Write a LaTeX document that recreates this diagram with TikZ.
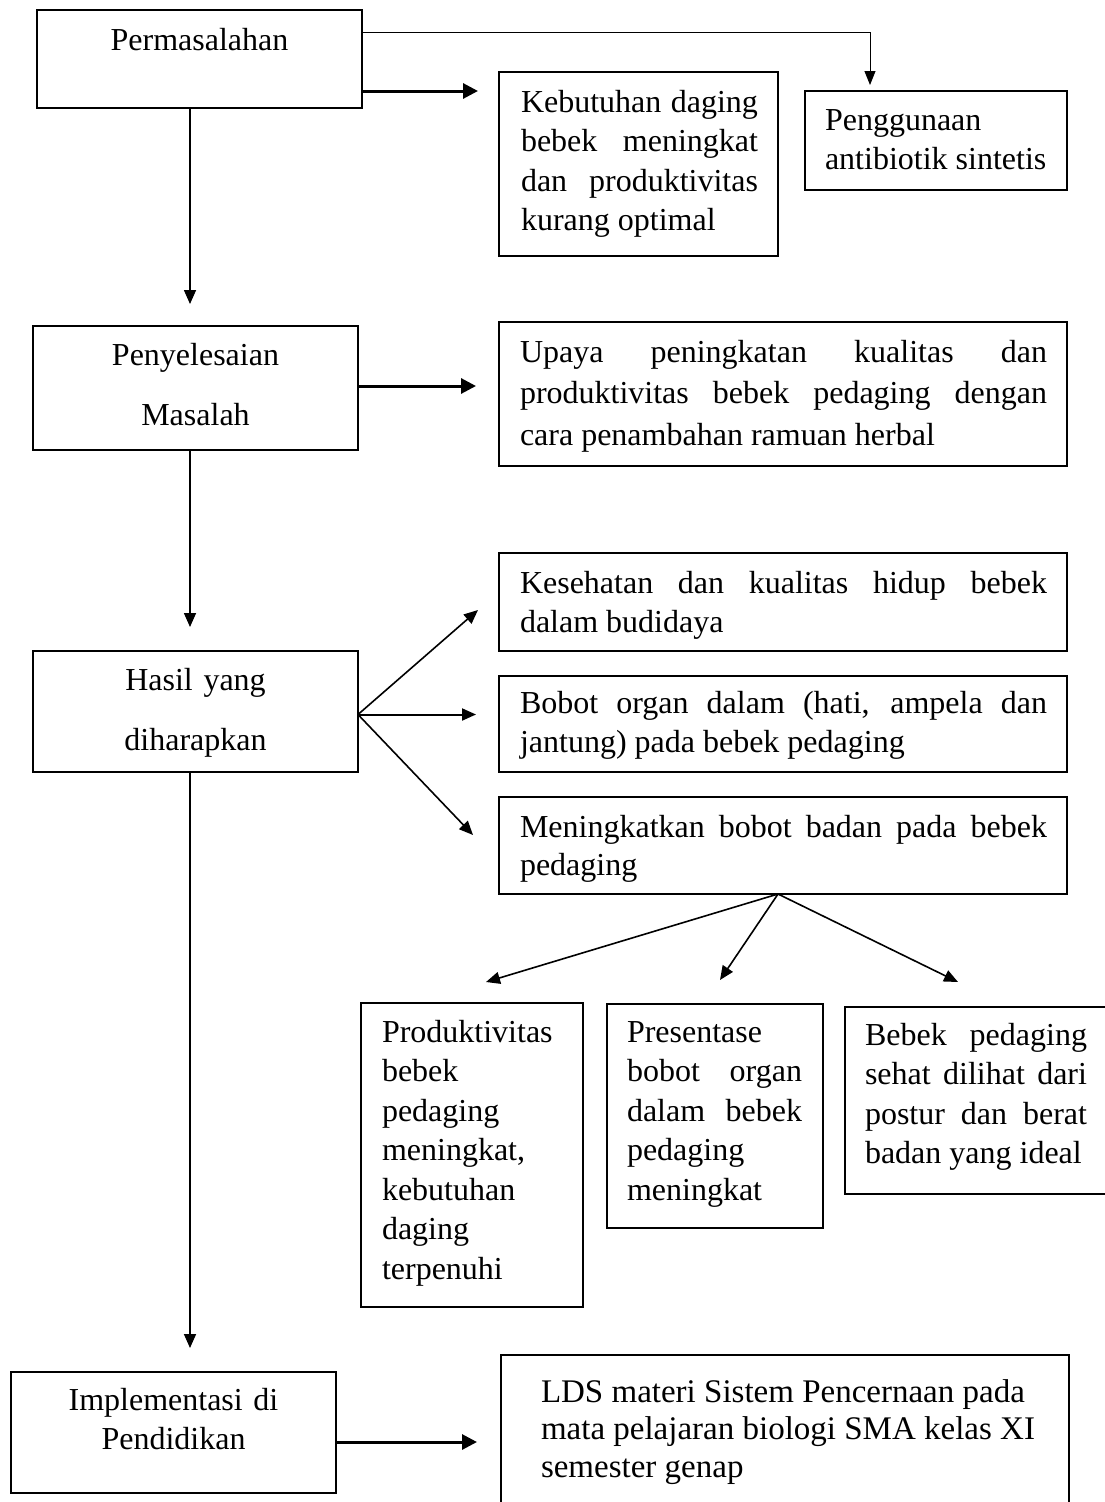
\documentclass[tikz,border=0pt]{standalone}
\usepackage{fontspec}
\setmainfont{Liberation Serif}
\usetikzlibrary{arrows.meta,calc}
\tikzset{
  x=1pt, y=-1pt,
  box/.style={draw, line width=1.5pt, inner sep=0pt, outer sep=0pt, anchor=north west},
  txt/.style={inner sep=0pt, outer sep=0pt, anchor=north west, align=justify,
    font=\fontsize{32}{39.5}\selectfont},
  ctxt/.style={inner sep=0pt, outer sep=0pt, anchor=north, align=center, text width=300pt,
    font=\fontsize{32}{39.5}\selectfont},
  wtxt/.style={ctxt, font=\fontsize{32}{60}\selectfont},
  arr/.style={line width=1.6pt, -{Triangle[length=14pt,width=12pt]}},
  tarr/.style={line width=3pt, -{Triangle[length=15pt,width=15pt]}},
  thinarr/.style={line width=1pt, -{Triangle[length=14pt,width=11pt]}},
}
\begin{document}
\setlength{\parindent}{0pt}%
\hyphenpenalty=10000 \exhyphenpenalty=10000 \hbadness=10000 %
\begin{tikzpicture}
\fill[white] (0,0) rectangle (1104,1502);
\useasboundingbox (0,0) rectangle (1104,1502);

% boxes
\node[box, minimum width=325pt, minimum height=98pt]  (perm)  at (37,10) {};
\node[box, minimum width=279pt, minimum height=184pt] (keb)   at (499,72) {};
\node[box, minimum width=262pt, minimum height=99pt]  (peng)  at (805,91) {};
\node[box, minimum width=325pt, minimum height=124pt] (peny)  at (33,326) {};
\node[box, minimum width=568pt, minimum height=144pt] (upaya) at (499,322) {};
\node[box, minimum width=325pt, minimum height=121pt] (hasil) at (33,651) {};
\node[box, minimum width=568pt, minimum height=98pt]  (kes)   at (499,553) {};
\node[box, minimum width=568pt, minimum height=96pt]  (bob)   at (499,676) {};
\node[box, minimum width=568pt, minimum height=97pt]  (men)   at (499,797) {};
\node[box, minimum width=222pt, minimum height=304pt] (prod)  at (361,1003) {};
\node[box, minimum width=216pt, minimum height=224pt] (pres)  at (607,1004) {};
\node[box, minimum width=262pt, minimum height=187pt] (beb)   at (845,1007) {};
\node[box, minimum width=325pt, minimum height=121pt] (impl)  at (11,1372) {};
\node[box, minimum width=568pt, minimum height=170pt] (lds)   at (501,1355) {};

% texts
\node[inner sep=0pt, anchor=base, font=\fontsize{32}{39.5}\selectfont] (permt) at (199.5,50) {Permasalahan};
\node[txt, text width=237pt] (kebt) at (521,84.35)
  {\strut Kebutuhan daging\linebreak bebek meningkat\linebreak dan produktivitas\linebreak kurang optimal};
\node[txt, text width=222pt] (pengt) at (825,102.35)
  {\strut Penggunaan\newline antibiotik sintetis};
\node[wtxt] (penyt) at (195.5,323) {\strut Penyelesaian\\Masalah};
\node[txt, text width=527pt, font=\fontsize{32}{41.5}\selectfont] (upayat) at (520,332.95)
  {\strut Upaya peningkatan kualitas dan\linebreak produktivitas bebek pedaging dengan\linebreak cara penambahan ramuan herbal};
\node[wtxt] (hasilt) at (195.5,648) {\strut Hasil yang\\diharapkan};
\node[txt, text width=527pt] (kest) at (520,565.35)
  {\strut Kesehatan dan kualitas hidup bebek\linebreak dalam budidaya};
\node[txt, text width=527pt] (bobt) at (520,685.35)
  {\strut Bobot organ dalam (hati, ampela dan\linebreak jantung) pada bebek pedaging};
\node[txt, text width=527pt, font=\fontsize{32}{38}\selectfont] (ment) at (520,810.4)
  {\strut Meningkatkan bobot badan pada bebek\linebreak pedaging};
\node[txt, text width=180pt] (prodt) at (382,1014.35)
  {\strut Produktivitas\newline bebek\newline pedaging\newline meningkat,\newline kebutuhan\newline daging\newline terpenuhi};
\node[txt, text width=175pt] (prest) at (627,1014.35)
  {\strut Presentase\newline bobot organ\linebreak dalam bebek\linebreak pedaging\newline meningkat};
\node[txt, text width=222pt] (bebt) at (865,1017.35)
  {\strut Bebek pedaging\linebreak sehat dilihat dari\linebreak postur dan berat\linebreak badan yang ideal};
\node[ctxt] (implt) at (173.5,1382.35) {\strut Implementasi di\\Pendidikan};
\node[txt, text width=540pt, font=\fontsize{33}{37.5}\selectfont] (ldst) at (541,1375.75)
  {\strut LDS materi Sistem Pencernaan pada\newline mata pelajaran biologi SMA kelas XI\newline semester genap};

% connectors
\coordinate (vx) at (190,0);
\coordinate (p1) at ($(perm.north east)+(0,22)$);
\coordinate (p2) at ($(peng.north west)+(65,0)$);
\draw[thinarr, shorten >=6pt] (p1) -| (p2);
\coordinate (p3) at ($(perm.south east)+(0,-17)$);
\draw[tarr, shorten >=21pt] (p3) -- (p3 -| keb.west);
\draw[arr, shorten >=22pt] (vx |- perm.south) -- (vx |- peny.north);

\coordinate (s0) at ($(peny.east)+(0,-2)$);
\draw[tarr, shorten >=23pt] (s0) -- (s0 -| upaya.west);
\draw[arr, shorten >=24pt] (vx |- peny.south) -- (vx |- hasil.north);

\coordinate (h0) at ($(hasil.east)+(0,3)$);
\coordinate (t1) at ($(kes.south west)+(-21,-41)$);
\coordinate (t3) at ($(men.north west)+(-26,38)$);
\draw[arr] (h0) -- (t1);
\draw[arr, line width=2pt, shorten >=23pt] (h0) -- (h0 -| bob.west);
\draw[arr] (h0) -- (t3);

\coordinate (m0) at ($(men.south)+(-5,0)$);
\coordinate (u1) at ($(prod.north)+(14,-21)$);
\coordinate (u2) at ($(pres.north)+(5,-24)$);
\coordinate (u3) at ($(beb.north)+(-18,-25)$);
\draw[arr] (m0) -- (u1);
\draw[arr] (m0) -- (u2);
\draw[arr] (m0) -- (u3);

\draw[arr, shorten >=24pt] (vx |- hasil.south) -- (vx |- impl.north);
\coordinate (i0) at ($(impl.east)+(0,9.5)$);
\draw[tarr, shorten >=24pt] (i0) -- (i0 -| lds.west);
\end{tikzpicture}
\end{document}
